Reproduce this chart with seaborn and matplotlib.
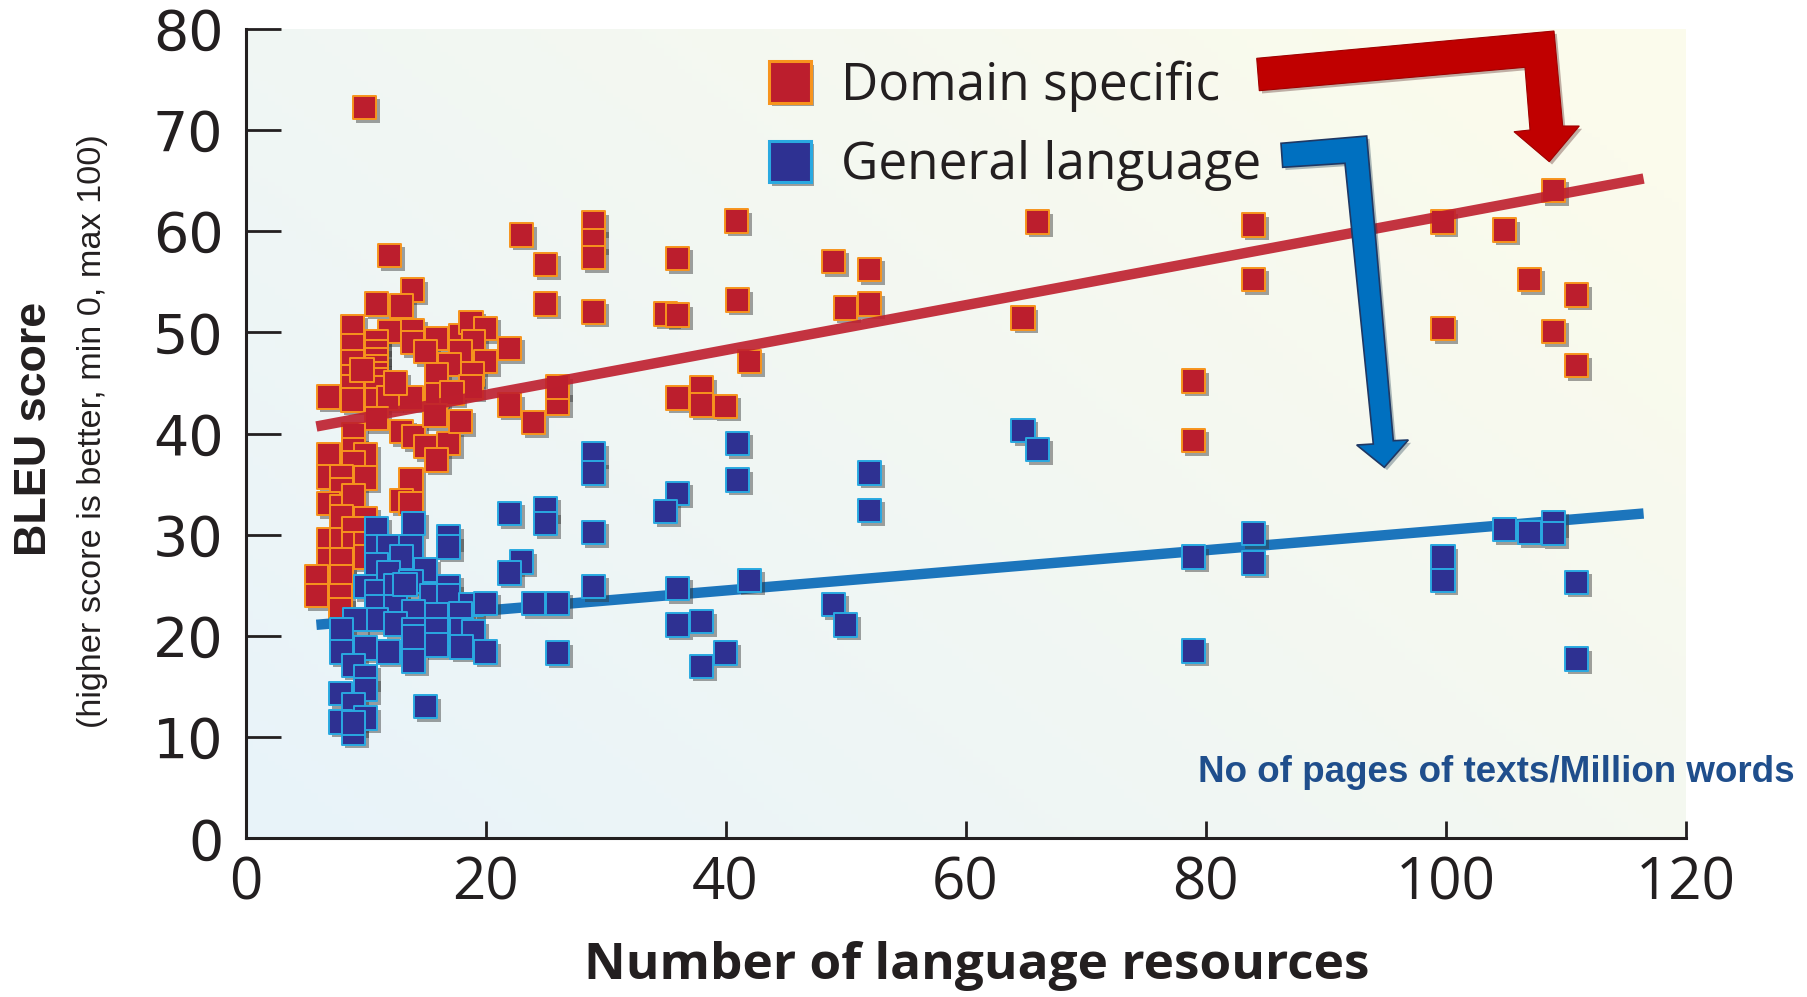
import numpy as np
import pandas as pd
import matplotlib
matplotlib.use("Agg")
import matplotlib.pyplot as plt
import matplotlib.patheffects as pe
import matplotlib.transforms as mtransforms
from matplotlib.lines import Line2D
from matplotlib.patches import Polygon
from matplotlib import font_manager
import seaborn as sns

# ---------------- data ----------------
domain_x = [
    9.9, 12.0, 13.9, 10.9, 13.0, 8.9, 12.0, 13.9, 13.9, 15.9, 15.0, 17.9, 18.8, 20.0,
    19.0, 17.9, 20.0, 22.0, 17.0, 15.9, 18.9, 18.8,
    8.9, 8.9, 8.9, 8.9, 8.9,
    10.9, 10.9, 10.9, 10.9, 10.9, 10.9, 10.9, 10.9,
    6.9, 11.9, 13.8, 15.9, 17.2, 9.7, 12.5,
    10.9, 9.0, 13.0, 14.0, 15.0, 16.9, 17.9, 15.9, 15.8, 6.9, 9.0, 10.0, 9.0,
    6.9, 8.0, 10.0, 13.8, 8.0, 6.9, 8.0, 9.0, 13.0, 13.8, 8.0, 10.0,
    6.9, 8.0, 9.0, 9.0, 10.0, 6.9, 8.0, 10.0, 5.9, 8.0, 5.9, 7.9, 7.9,
    23.0, 25.0, 29.0, 29.0, 29.0, 40.9, 36.0, 25.0, 29.0, 35.0, 36.0, 41.0,
    49.0, 52.0, 50.0, 52.0, 42.0, 22.0, 24.0, 26.0, 26.0, 36.0, 38.0, 38.0, 40.0,
    66.0, 64.8, 84.0, 84.0, 79.0, 79.0, 99.8, 99.8, 104.9, 107.0, 109.0, 109.0,
    110.9, 110.9,
]
domain_y = [
    72.2, 57.6, 54.2, 52.8, 52.6, 50.6, 50.1, 50.2, 49.0, 49.4, 48.1, 49.7, 51.0, 50.4,
    49.1, 48.1, 47.1, 48.4, 46.8, 45.8, 45.9, 44.6,
    48.7, 47.1, 45.6, 44.6, 43.3,
    49.1, 48.1, 47.3, 46.6, 45.9, 45.3, 44.5, 43.3,
    43.6, 43.5, 43.5, 43.8, 44.0, 46.3, 45.0,
    41.5, 39.9, 40.2, 39.7, 38.7, 39.0, 41.2, 37.4, 41.8, 37.9, 38.4, 37.9, 37.1,
    35.7, 35.7, 35.6, 35.4, 34.4, 33.1, 32.8, 33.9, 33.4, 33.1, 31.8, 31.6,
    29.5, 29.5, 30.6, 29.1, 29.1, 27.5, 27.5, 27.8, 25.9, 25.9, 24.0, 24.0, 22.6,
    59.6, 56.7, 60.8, 59.1, 57.4, 61.0, 57.3, 52.8, 52.0, 51.8, 51.7, 53.2,
    57.0, 56.2, 52.4, 52.8, 47.1, 42.8, 41.1, 43.0, 44.6, 43.5, 44.5, 42.8, 42.7,
    60.9, 51.4, 60.6, 55.2, 45.2, 39.3, 60.9, 50.4, 60.1, 55.2, 64.0, 50.1,
    53.7, 46.7,
]
general_x = [
    29.0, 29.0, 41.0, 41.0, 52.0, 52.0, 36.0, 35.0, 22.0, 25.0, 25.0, 29.0, 23.0, 22.0,
    29.0, 24.0, 26.0, 36.0, 42.0, 36.0, 38.0, 49.0, 50.0, 26.0, 40.0, 38.0,
    64.8, 66.0, 79.0, 79.0, 84.0, 84.0, 99.8, 99.8, 104.9, 107.0, 109.0, 109.0,
    110.9, 110.9,
    14.0, 10.9, 16.9, 16.9, 10.9, 11.9, 13.8, 13.0, 10.9, 15.0, 11.9, 13.8, 10.0,
    16.9, 10.9, 12.5, 15.5, 16.9, 18.8, 20.0, 10.9, 12.5, 14.0, 15.9, 17.9, 10.9,
    9.1, 8.0, 12.5, 14.0, 15.9, 18.0, 19.0, 8.0, 10.0, 11.9, 14.0, 14.0, 15.9,
    18.0, 20.0, 9.0, 10.0, 10.0, 7.9, 15.0, 9.0, 10.0, 7.9, 9.0, 9.0, 13.3,
]
general_y = [
    38.0, 36.1, 39.0, 35.4, 36.1, 32.4, 34.1, 32.3, 32.1, 32.6, 31.1, 30.2, 27.3, 26.2,
    24.9, 23.2, 23.2, 24.7, 25.5, 21.1, 21.4, 23.1, 21.1, 18.3, 18.3, 17.0,
    40.3, 38.4, 27.8, 18.5, 30.1, 27.2, 27.8, 25.5, 30.5, 30.2, 31.2, 30.1,
    25.3, 17.7,
    31.1, 30.6, 29.8, 28.8, 28.8, 28.8, 28.8, 27.8, 27.0, 26.5, 26.2, 25.4, 24.9,
    24.9, 24.4, 25.0, 24.0, 24.0, 23.1, 23.2, 22.9, 22.9, 22.4, 22.1, 22.2, 21.6,
    21.6, 20.6, 21.2, 20.6, 20.6, 20.6, 20.4, 18.4, 18.8, 18.4, 19.9, 17.5, 19.1,
    18.9, 18.4, 17.1, 16.0, 14.7, 14.3, 13.0, 13.2, 11.9, 11.5, 10.4, 11.4, 25.1,
]
trend_x = [5.9, 116.5]
domain_trend = [40.7, 65.2]
general_trend = [21.1, 32.1]

x_ticks = [0, 20, 40, 60, 80, 100, 120]
y_ticks = [0, 10, 20, 30, 40, 50, 60, 70, 80]
labels = ["Domain specific", "General language"]

# ---------------- style ----------------
RED, ORANGE = "#BC1E2D", "#F7941D"
NAVY, CYAN = "#2E3192", "#29A9E1"
INK = "#231F20"

sns.set_style("ticks")
installed = {f.name for f in font_manager.fontManager.ttflist}
NARROW = "Liberation Sans Narrow" if "Liberation Sans Narrow" in installed else "Liberation Sans"
narrow_k = 1.0 if NARROW == "Liberation Sans Narrow" else 0.85
plt.rcParams["font.family"] = ["DejaVu Sans"]

W, H = 1808, 997
fig = plt.figure(figsize=(W / 100, H / 100), dpi=100)
ax = fig.add_axes([245.6 / W, 1 - 838.3 / H, 1440 / W, 809.5 / H])

# pixel -> figure transform for decorations
px = mtransforms.Affine2D().scale(1 / W, -1 / H).translate(0, 1) + fig.transFigure

# background gradient (blue bottom-left -> cream top-right)
n = 200
U, V = np.meshgrid(np.linspace(0, 1, n), np.linspace(0, 1, n))
t = np.clip(U * 0.65 + V * 0.45, 0, 1)[..., None]
c0 = np.array([232, 243, 250]) / 255
c1 = np.array([251, 251, 236]) / 255
ax.imshow(c0 + (c1 - c0) * t, extent=[0, 1, 0, 1], transform=ax.transAxes,
          origin="lower", aspect="auto", zorder=0)

shadow = [pe.SimplePatchShadow(offset=(2.5, -2.5), shadow_rgbFace="#333333", alpha=0.45),
          pe.Normal()]

dom = pd.DataFrame({"resources": domain_x, "bleu": domain_y})
gen = pd.DataFrame({"resources": general_x, "bleu": general_y})

sns.scatterplot(data=dom, x="resources", y="bleu", marker="s", s=285, color=RED,
                edgecolor=ORANGE, linewidth=1.4, ax=ax, zorder=3, legend=False)
ax.collections[-1].set_path_effects(shadow)

trend = pd.DataFrame({"x": trend_x, "dom": domain_trend, "gen": general_trend})
sns.lineplot(data=trend, x="x", y="dom", color="#BE1E2D", lw=7.5, alpha=0.9,
             ax=ax, zorder=4, solid_capstyle="butt")
sns.lineplot(data=trend, x="x", y="gen", color="#1C75BC", lw=7.5,
             ax=ax, zorder=4.5, solid_capstyle="butt")

sns.scatterplot(data=gen, x="resources", y="bleu", marker="s", s=285, color=NAVY,
                edgecolor=CYAN, linewidth=1.4, ax=ax, zorder=5, legend=False)
ax.collections[-1].set_path_effects(shadow)

# axes
ax.set_xlim(0, 120)
ax.set_ylim(0, 80)
ax.set_xticks(x_ticks)
ax.set_yticks(y_ticks)
sns.despine(ax=ax)
for s in ("left", "bottom"):
    ax.spines[s].set_linewidth(2.2)
    ax.spines[s].set_color(INK)
    ax.spines[s].set_zorder(6)
ax.tick_params(axis="y", direction="in", length=25, width=2, color=INK, pad=16,
               labelsize=40, labelcolor=INK)
ax.tick_params(axis="x", direction="in", length=12, width=2, color=INK, pad=12,
               labelsize=42, labelcolor=INK)
for lab in ax.get_xticklabels():
    lab.set_fontfamily(["Open Sans", "DejaVu Sans"])

# axis titles
ax.set_ylabel("")
ax.set_xlabel("Number of language resources", fontsize=37, fontweight="bold",
              family=["Open Sans", "DejaVu Sans"], color=INK, labelpad=20)
ax.xaxis.label.set_x(0.508)
fig.text(35 / W, 1 - 429 / H, "BLEU score", rotation=90, ha="center", va="center",
         fontsize=38 * narrow_k, fontweight="bold", family=[NARROW], color=INK)
fig.text(93 / W, 1 - 431 / H, "(higher score is better, min 0, max 100)", rotation=90,
         ha="center", va="center", fontsize=29 * narrow_k, family=[NARROW], color=INK)
fig.text(1198 / W, 1 - 782 / H, "No of pages of texts/Million words", ha="left",
         va="baseline", fontsize=26.5, fontweight="bold", family=["Liberation Sans"],
         color="#1F4E8C")

# legend
handles = [
    Line2D([], [], ls="", marker="s", ms=30, mfc=RED, mec=ORANGE, mew=2.2,
           path_effects=shadow),
    Line2D([], [], ls="", marker="s", ms=30, mfc=NAVY, mec=CYAN, mew=2.2,
           path_effects=shadow),
]
leg = ax.legend(handles, labels, loc="center left", bbox_to_anchor=(764 / W, 1 - 126 / H),
                bbox_transform=fig.transFigure, frameon=False, borderpad=0, borderaxespad=0,
                handlelength=1.0, handletextpad=0.5, labelspacing=0.55,
                prop={"family": ["Open Sans", "DejaVu Sans"], "size": 37})
for txt in leg.get_texts():
    txt.set_color(INK)
leg.set_zorder(7)

# bent arrows
red_arrow = [(1256.7, 58.3), (1554, 31), (1562.7, 126), (1579.3, 126), (1549.3, 161.7),
             (1514, 131.7), (1530, 130), (1525, 67.3), (1259.3, 90.7)]
blue_arrow = [(1281, 143.3), (1366.7, 136), (1393.3, 440.7), (1408.3, 440), (1384.3, 467.3),
              (1356.7, 445), (1373.3, 444), (1345, 163.3), (1282.7, 167.3)]
arrow_fx = [pe.SimplePatchShadow(offset=(2, -2), alpha=0.3), pe.Normal()]
fig.patches.append(Polygon(red_arrow, closed=True, transform=px, facecolor="#C00000",
                           edgecolor="#A00000", lw=0.8, zorder=8, path_effects=arrow_fx))
fig.patches.append(Polygon(blue_arrow, closed=True, transform=px, facecolor="#0070C0",
                           edgecolor="#1F3864", lw=1.2, zorder=8, path_effects=arrow_fx))

fig.savefig("out.png", dpi=100)
